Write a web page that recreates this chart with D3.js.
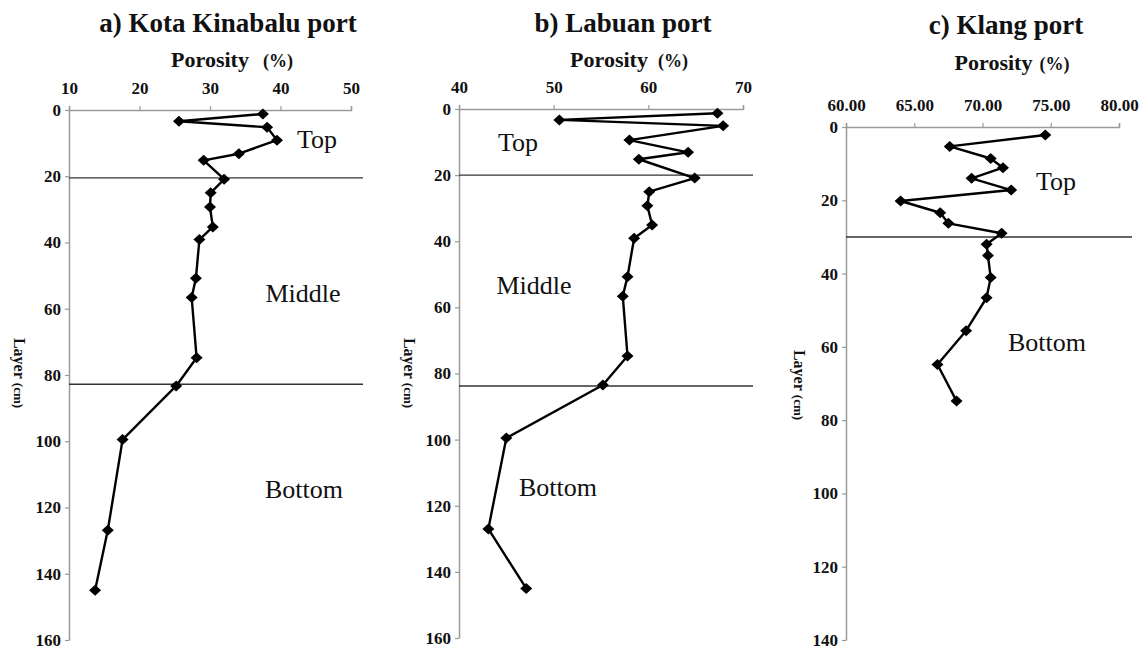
<!DOCTYPE html>
<html>
<head>
<meta charset="utf-8">
<script src="https://cdn.jsdelivr.net/npm/d3@7"></script>
<style>
  html, body { margin: 0; padding: 0; background: #fff; }
  svg { display: block; }
  text { font-family: "Liberation Serif", "Times New Roman", serif; fill: #111; }
</style>
</head>
<body>
<svg id="chart" width="1142" height="648"></svg>
<script>
// ---- a) Kota Kinabalu port ----
const kkDepth    = [1.2, 3.4, 5.2, 9.1, 13.2, 15.2, 20.9, 25.0, 29.3, 35.3, 39.1, 50.8, 56.6, 74.8, 83.3, 99.5, 126.9, 145.0];
const kkPorosity = [37.5, 25.6, 38.1, 39.5, 34.1, 29.1, 32.0, 30.1, 30.0, 30.4, 28.5, 28.0, 27.4, 28.1, 25.2, 17.6, 15.5, 13.7];
const kkBounds   = [20.5, 82.8];
const kkXTicks   = [10, 20, 30, 40, 50];
const kkYTicks   = [0, 20, 40, 60, 80, 100, 120, 140, 160];
const kkZones    = ["Top", "Middle", "Bottom"];

// ---- b) Labuan port ----
const lbDepth    = [1.3, 3.3, 5.1, 9.4, 13.1, 15.2, 20.9, 25.0, 29.3, 35.1, 39.1, 50.7, 56.6, 74.7, 83.5, 99.5, 127.0, 145.0];
const lbPorosity = [67.3, 50.6, 67.9, 58.0, 64.2, 59.0, 64.9, 60.1, 59.9, 60.4, 58.5, 57.8, 57.3, 57.8, 55.2, 45.0, 43.1, 47.1];
const lbBounds   = [20.0, 83.8];
const lbXTicks   = [40, 50, 60, 70];
const lbYTicks   = [0, 20, 40, 60, 80, 100, 120, 140, 160];
const lbZones    = ["Top", "Middle", "Bottom"];

// ---- c) Klang port ----
const klDepth    = [2.2, 5.3, 8.6, 11.1, 14.0, 17.2, 20.2, 23.4, 26.3, 29.0, 32.0, 35.1, 41.1, 46.6, 55.6, 64.8, 74.8];
const klPorosity = [74.6, 67.6, 70.6, 71.5, 69.2, 72.1, 64.0, 66.9, 67.5, 71.4, 70.3, 70.4, 70.6, 70.3, 68.8, 66.7, 68.1];
const klBounds   = [30.0];
const klXTicks   = [60, 65, 70, 75, 80];
const klYTicks   = [0, 20, 40, 60, 80, 100, 120, 140];
const klZones    = ["Top", "Bottom"];

const svg = d3.select("#chart");

function drawPanel(p) {
  const x = d3.scaleLinear().domain(p.xDomain).range([p.left, p.right]);
  const y = d3.scaleLinear().domain(p.yDomain).range([p.top, p.bottom]);
  const g = svg.append("g");

  // title and x-axis caption
  g.append("text")
    .attr("x", p.titleX).attr("y", p.titleY)
    .attr("text-anchor", "middle")
    .style("font-size", "27px").style("font-weight", "bold")
    .text(p.title);
  const cap = g.append("text")
    .attr("x", p.capX).attr("y", p.capY)
    .attr("text-anchor", "middle")
    .style("font-weight", "bold");
  cap.append("tspan").style("font-size", "22px").text("Porosity");
  cap.append("tspan").style("font-size", "18px").attr("dx", p.capGap).text("(%)");

  // top x axis
  const xAxis = d3.axisTop(x).tickValues(p.xTicks).tickSize(4).tickSizeOuter(4)
    .tickFormat(p.xFormat);
  const gx = g.append("g").attr("transform", `translate(0,${p.top})`).call(xAxis);
  gx.select(".domain").attr("stroke", "#9a9a9a").attr("stroke-width", 1.5);
  gx.selectAll(".tick line").attr("stroke", "#9a9a9a").attr("stroke-width", 1.2);
  gx.selectAll(".tick text")
    .attr("y", p.xLabelDy)
    .style("font-family", "'Liberation Serif', serif")
    .style("font-size", "17px").style("font-weight", "bold").attr("fill", "#111");

  // left y axis
  const yAxis = d3.axisLeft(y).tickValues(p.yTicks).tickSize(4).tickSizeOuter(0);
  const gy = g.append("g").attr("transform", `translate(${p.left},0)`).call(yAxis);
  gy.select(".domain").attr("stroke", "#9a9a9a").attr("stroke-width", 1.5);
  gy.selectAll(".tick line").attr("stroke", "#9a9a9a").attr("stroke-width", 1.2);
  gy.selectAll(".tick text")
    .attr("x", -8)
    .style("font-family", "'Liberation Serif', serif")
    .style("font-size", "17px").style("font-weight", "bold").attr("fill", "#111");

  // y-axis caption
  const yl = g.append("text")
    .attr("transform", `translate(${p.yCapX},${p.yCapY}) rotate(90)`)
    .attr("text-anchor", "middle")
    .style("font-weight", "bold");
  yl.append("tspan").style("font-size", "16px").text("Layer");
  yl.append("tspan").style("font-size", "13px").attr("dx", 4).text("(cm)");

  // layer boundaries
  g.selectAll("line.bound").data(p.bounds).enter().append("line")
    .attr("x1", p.left).attr("x2", p.lineEnd)
    .attr("y1", d => y(d)).attr("y2", d => y(d))
    .attr("stroke", "#333").attr("stroke-width", 1.4);

  // zone names
  g.selectAll("text.zone").data(p.zones).enter().append("text")
    .attr("x", (d, i) => p.zonePos[i][0]).attr("y", (d, i) => p.zonePos[i][1])
    .attr("text-anchor", "middle")
    .style("font-size", "26px")
    .text(d => d);

  // profile line and markers
  const pts = p.depth.map((d, i) => [p.porosity[i], d]);
  g.append("path").datum(pts)
    .attr("fill", "none").attr("stroke", "#000").attr("stroke-width", 2.4)
    .attr("stroke-linejoin", "round")
    .attr("d", d3.line().x(d => x(d[0])).y(d => y(d[1])));
  g.selectAll("path.mk").data(pts).enter().append("path")
    .attr("transform", d => `translate(${x(d[0])},${y(d[1])})`)
    .attr("d", "M0,-5.5L6,0L0,5.5L-6,0Z")
    .attr("fill", "#000");
}

drawPanel({
  title: "a) Kota Kinabalu port", titleX: 228, titleY: 32,
  capX: 232, capY: 67, capGap: 14,
  xDomain: [10, 50], left: 69, right: 351, xTicks: kkXTicks, xFormat: d3.format("d"), xLabelDy: -16,
  yDomain: [0, 160], top: 110, bottom: 640, yTicks: kkYTicks,
  yCapX: 14, yCapY: 373,
  bounds: kkBounds, lineEnd: 363,
  zones: kkZones, zonePos: [[317, 148], [303, 302], [304, 498]],
  depth: kkDepth, porosity: kkPorosity
});

drawPanel({
  title: "b) Labuan port", titleX: 623, titleY: 32,
  capX: 629, capY: 67, capGap: 10,
  xDomain: [40, 70], left: 459, right: 743, xTicks: lbXTicks, xFormat: d3.format("d"), xLabelDy: -16,
  yDomain: [0, 160], top: 109, bottom: 638, yTicks: lbYTicks,
  yCapX: 404, yCapY: 373,
  bounds: lbBounds, lineEnd: 753,
  zones: lbZones, zonePos: [[518, 151], [534, 294], [558, 496]],
  depth: lbDepth, porosity: lbPorosity
});

drawPanel({
  title: "c) Klang port", titleX: 1006, titleY: 34,
  capX: 1012, capY: 70, capGap: 7,
  xDomain: [60, 80], left: 846, right: 1119, xTicks: klXTicks, xFormat: d3.format(".2f"), xLabelDy: -16,
  yDomain: [0, 140], top: 127, bottom: 640, yTicks: klYTicks,
  yCapX: 794, yCapY: 385,
  bounds: klBounds, lineEnd: 1132,
  zones: klZones, zonePos: [[1056, 190], [1047, 351]],
  depth: klDepth, porosity: klPorosity
});
</script>
</body>
</html>
